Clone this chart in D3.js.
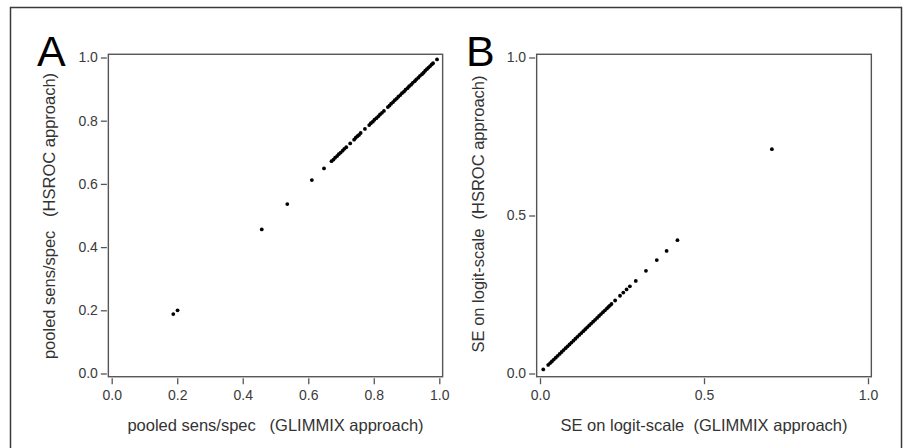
<!DOCTYPE html>
<html>
<head>
<meta charset="utf-8">
<script src="https://cdn.jsdelivr.net/npm/d3@7"></script>
<style>
  html, body { margin: 0; padding: 0; background: #fff; }
  svg text { font-family: "Liberation Sans", Arial, Helvetica, sans-serif; white-space: pre; }
</style>
</head>
<body>
<svg id="chart" width="907" height="448"></svg>
<script>
// ---- Data ----
// Panel A: pooled sens/spec, GLIMMIX (x) vs HSROC (y)
const glimmixA = [0.188, 0.201, 0.458, 0.536, 0.611, 0.648,
  0.671, 0.677, 0.682, 0.688, 0.693, 0.699, 0.705, 0.710, 0.716,
  0.728,
  0.740, 0.745, 0.750, 0.755, 0.760,
  0.773,
  0.786, 0.791, 0.797, 0.802, 0.808, 0.814, 0.819, 0.825, 0.831,
  0.843, 0.848, 0.853, 0.859, 0.864, 0.870, 0.875, 0.881, 0.886, 0.892,
  0.897, 0.903, 0.908, 0.914, 0.919, 0.925, 0.930, 0.936, 0.941, 0.947,
  0.952, 0.957, 0.962, 0.967, 0.972, 0.977, 0.981,
  0.993];
const hsrocA = [0.188, 0.200, 0.456, 0.536, 0.612, 0.649,
  0.672, 0.677, 0.683, 0.688, 0.694, 0.699, 0.705, 0.711, 0.716,
  0.728,
  0.740, 0.746, 0.751, 0.755, 0.761,
  0.774,
  0.786, 0.792, 0.797, 0.803, 0.808, 0.814, 0.820, 0.825, 0.831,
  0.843, 0.848, 0.854, 0.859, 0.865, 0.870, 0.876, 0.881, 0.887, 0.892,
  0.898, 0.903, 0.909, 0.914, 0.920, 0.925, 0.931, 0.936, 0.942, 0.947,
  0.952, 0.958, 0.963, 0.968, 0.973, 0.978, 0.982,
  0.994];

// Panel B: SE on logit scale, GLIMMIX (x) vs HSROC (y)
const glimmixB = [0.010,
  0.025, 0.031, 0.036, 0.042, 0.048, 0.054, 0.060, 0.066, 0.072, 0.078,
  0.084, 0.090, 0.096, 0.102, 0.108, 0.114, 0.120, 0.126, 0.132, 0.138,
  0.144, 0.150, 0.156, 0.162, 0.168, 0.174, 0.180, 0.186, 0.192, 0.198,
  0.204, 0.209, 0.213,
  0.218, 0.229, 0.244, 0.254, 0.264, 0.274, 0.292, 0.323, 0.356, 0.386, 0.419,
  0.707];
const hsrocB = [0.013,
  0.027, 0.033, 0.038, 0.044, 0.050, 0.056, 0.062, 0.068, 0.074, 0.080,
  0.086, 0.092, 0.098, 0.104, 0.110, 0.116, 0.122, 0.128, 0.134, 0.140,
  0.146, 0.152, 0.158, 0.164, 0.170, 0.176, 0.182, 0.188, 0.194, 0.200,
  0.206, 0.211, 0.215,
  0.220, 0.231, 0.246, 0.256, 0.266, 0.276, 0.293, 0.325, 0.359, 0.388, 0.422,
  0.710];

const ticksA = [0, 0.2, 0.4, 0.6, 0.8, 1.0];
const ticksB = [0, 0.5, 1.0];

const xLabelA = "pooled sens/spec   (GLIMMIX approach)";
const yLabelA = "pooled sens/spec   (HSROC approach)";
const xLabelB = "SE on logit-scale  (GLIMMIX approach)";
const yLabelB = "SE on logit-scale  (HSROC approach)";

// ---- Drawing ----
const svg = d3.select("#chart");
svg.append("rect").attr("width", 907).attr("height", 448).attr("fill", "#fff");
svg.append("rect").attr("x", 10.5).attr("y", 7.5).attr("width", 891).attr("height", 460)
  .attr("fill", "none").attr("stroke", "#3a3a3a").attr("stroke-width", 1.5);

const PAD = 0.0102;
const FONT = "\"Liberation Sans\", Arial, Helvetica, sans-serif";

function panel(opts) {
  const x = d3.scaleLinear().domain([0, 1]).range(opts.xr);
  const y = d3.scaleLinear().domain([0, 1]).range([373.5, 57.5]);
  const g = svg.append("g");

  // box
  const bx0 = x(-PAD), bx1 = x(1 + PAD), by0 = y(1 + PAD), by1 = y(-PAD);
  g.append("rect").attr("x", bx0).attr("y", by0)
    .attr("width", bx1 - bx0).attr("height", by1 - by0)
    .attr("fill", "none").attr("stroke", "#555").attr("stroke-width", 1.4);

  // axes
  const fmt = d3.format(".1f");
  const xa = g.append("g").attr("transform", `translate(0,${by1 + 1.5})`)
    .call(d3.axisBottom(x).tickValues(opts.ticks).tickFormat(fmt).tickSize(6).tickPadding(6));
  const ya = g.append("g").attr("transform", `translate(${bx0 - 1.5},0)`)
    .call(d3.axisLeft(y).tickValues(opts.ticks).tickFormat(fmt).tickSize(6).tickPadding(3));
  [xa, ya].forEach(a => {
    a.select(".domain").remove();
    a.selectAll(".tick line").attr("stroke", "#555").attr("stroke-width", 1.3);
    a.selectAll(".tick text").attr("fill", "#3a3a3a").style("font-size", "14px").style("font-family", FONT);
  });
  xa.selectAll(".tick text").attr("dy", "0.71em");

  // points
  g.append("g").selectAll("circle")
    .data(opts.xs.map((v, i) => [v, opts.ys[i]]))
    .join("circle")
    .attr("cx", d => x(d[0])).attr("cy", d => y(d[1]))
    .attr("r", 1.9).attr("fill", "#000");

  // axis titles
  g.append("text").attr("x", (bx0 + bx1) / 2 + opts.xlOff).attr("y", 425).attr("dy", "0.35em")
    .attr("text-anchor", "middle").attr("fill", "#333")
    .style("font-size", "16.5px").text(opts.xLabel);
  g.append("text").attr("transform", `translate(${opts.ylX},${opts.ylY}) rotate(-90)`)
    .attr("dy", "0.35em").attr("text-anchor", "middle").attr("fill", "#333")
    .style("font-size", "16.5px").text(opts.yLabel);

  // panel letter
  g.append("text").attr("x", opts.letterX).attr("y", 66).attr("fill", "#000")
    .style("font-size", "43px").text(opts.letter);
}

panel({ xr: [111.7, 439.3], ticks: ticksA, xs: glimmixA, ys: hsrocA,
  xLabel: xLabelA, yLabel: yLabelA, xlOff: 0, ylX: 49, ylY: 216, letter: "A", letterX: 37 });
panel({ xr: [540, 868], ticks: ticksB, xs: glimmixB, ys: hsrocB,
  xLabel: xLabelB, yLabel: yLabelB, xlOff: 0, ylX: 478, ylY: 214, letter: "B", letterX: 466 });
</script>
</body>
</html>
